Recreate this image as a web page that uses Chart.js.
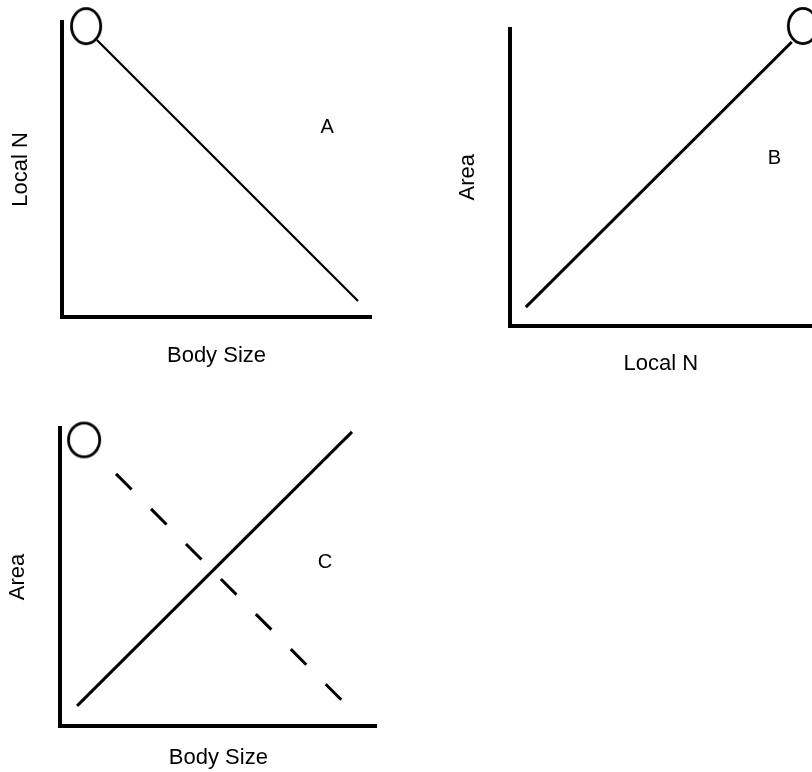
<!DOCTYPE html>
<html>
<head>
<meta charset="utf-8">
<script src="https://cdn.jsdelivr.net/npm/chart.js@4.4.0/dist/chart.umd.min.js"></script>
<style>
    html, body { margin: 0; padding: 0; background: #fff; overflow: hidden; width: 812px; height: 772px; }
    canvas { position: absolute; }
</style>
</head>
<body>
<canvas id="chartA" width="380" height="380" style="left:0;top:0"></canvas>
<canvas id="chartB" width="372" height="380" style="left:440px;top:0"></canvas>
<canvas id="chartC" width="380" height="372" style="left:0;top:400px"></canvas>
<script>
'use strict';

// axis titles
const titlesA = ['Body Size', 'Local N'];
const titlesB = ['Local N', 'Area'];
const titlesC = ['Body Size', 'Area'];

// panel letters
const letters = ['A', 'B', 'C'];
const letterX = [85.8, 87.6, 83.7];
const letterY = [64.1, 56.2, 54.7];

// panel A (0-100 on both axes)
const aLineX = [11.3, 95.8];
const aLineY = [93.9, 5.4];
const aRingX = [7.8];
const aRingY = [98.6];

// panel B
const bLineX = [5.4, 93.3];
const bLineY = [6.2, 95.6];
const bRingX = [97.0];
const bRingY = [101.0];

// panel C
const cSolidX = [5.4, 92.2];
const cSolidY = [6.7, 98.7];
const cDashX = [17.7, 89.4];
const cDashY = [84.6, 8.1];
const cRingX = [7.6];
const cRingY = [96.0];

const FONT = '"Liberation Sans", Arial, sans-serif';

function pts(xs, ys) {
    return xs.map((x, i) => ({ x: x, y: ys[i] }));
}

// open ellipse used as a point style
function makeRing(rx, ry, lw) {
    const c = document.createElement('canvas');
    c.width = Math.ceil(2 * rx + lw + 4);
    c.height = Math.ceil(2 * ry + lw + 4);
    const ctx = c.getContext('2d');
    ctx.strokeStyle = '#000';
    ctx.lineWidth = lw;
    ctx.beginPath();
    ctx.ellipse(c.width / 2, c.height / 2, rx, ry, 0, 0, Math.PI * 2);
    ctx.stroke();
    return c;
}

const letterPlugin = {
    id: 'panelLetter',
    afterDatasetsDraw(chart, args, opts) {
        const { ctx, scales } = chart;
        ctx.save();
        ctx.font = '20px ' + FONT;
        ctx.fillStyle = '#000';
        ctx.textAlign = 'center';
        ctx.textBaseline = 'middle';
        ctx.fillText(opts.text, scales.x.getPixelForValue(opts.x), scales.y.getPixelForValue(opts.y));
        ctx.restore();
    }
};

function axis(text, pad) {
    return {
        type: 'linear',
        min: 0,
        max: 100,
        grid: { display: false, drawTicks: false },
        ticks: { display: false },
        border: { display: true, color: '#000', width: 4 },
        title: {
            display: true,
            text: text,
            color: '#000',
            font: { family: FONT, size: 22 },
            padding: pad
        }
    };
}

function lineSet(data, width, dash) {
    return {
        data: data,
        showLine: true,
        borderColor: '#000',
        borderWidth: width,
        borderDash: dash || [],
        pointRadius: 0,
        clip: false
    };
}

function ringSet(data, ring) {
    return {
        data: data,
        showLine: false,
        pointStyle: ring,
        pointRadius: 16,
        clip: false
    };
}

function makeChart(id, datasets, titles, idx, xPad, yPad, layoutPad) {
    return new Chart(document.getElementById(id), {
        type: 'scatter',
        data: { datasets: datasets },
        options: {
            responsive: false,
            animation: false,
            events: [],
            layout: { autoPadding: false, padding: layoutPad },
            scales: {
                x: axis(titles[0], xPad),
                y: axis(titles[1], yPad)
            },
            plugins: {
                legend: { display: false },
                tooltip: { enabled: false },
                panelLetter: { text: letters[idx], x: letterX[idx], y: letterY[idx] }
            }
        },
        plugins: [letterPlugin]
    });
}

makeChart('chartA', [
    ringSet(pts(aRingX, aRingY), makeRing(14.6, 17.6, 2.8)),
    lineSet(pts(aLineX, aLineY), 2.2)
], titlesA, 0,
    { top: 25.8, bottom: 10.8 },
    { top: 8, bottom: 27.6 },
    { top: 22, right: 9, left: 0, bottom: 0 });

makeChart('chartB', [
    ringSet(pts(bRingX, bRingY), makeRing(14.6, 17.6, 2.8)),
    lineSet(pts(bLineX, bLineY), 3)
], titlesB, 1,
    { top: 25.3, bottom: 2.8 },
    { top: 14.3, bottom: 28.8 },
    { top: 29, right: 0, left: 0, bottom: 0 });

makeChart('chartC', [
    ringSet(pts(cRingX, cRingY), makeRing(15.6, 16.9, 2.8)),
    lineSet(pts(cSolidX, cSolidY), 3),
    lineSet(pts(cDashX, cDashY), 3, [22, 27.5])
], titlesC, 2,
    { top: 18.5, bottom: 1.3 },
    { top: 5.1, bottom: 28.5 },
    { top: 28, right: 3.3, left: 0, bottom: 0 });
</script>
</body>
</html>
